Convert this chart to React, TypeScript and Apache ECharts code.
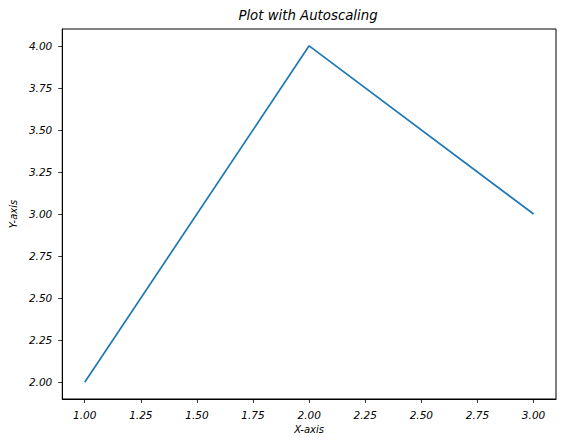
import React, { useEffect, useRef } from "react";
import * as echarts from "echarts";

const xValues = [1, 2, 3];
const yValues = [2, 4, 3];
const xTicks = [1, 1.25, 1.5, 1.75, 2, 2.25, 2.5, 2.75, 3];
const yTicks = [2, 2.25, 2.5, 2.75, 3, 3.25, 3.5, 3.75, 4];

const FONT = "DejaVu Sans";

export default function App() {
  const ref = useRef<HTMLDivElement>(null);
  useEffect(() => {
    if (!ref.current) return;
    const chart = echarts.init(ref.current, null, { renderer: "svg" });
    const axisCommon = {
      type: "value" as const,
      splitLine: { show: false },
      axisLine: { show: true, lineStyle: { color: "#000", width: 1 } },
      axisTick: { show: true, length: 4, lineStyle: { color: "#000", width: 0.8 } },
      axisLabel: {
        color: "#000",
        fontFamily: FONT,
        fontStyle: "italic",
        fontSize: 10.5,
        formatter: (v: number) => v.toFixed(2),
      },
      nameTextStyle: { color: "#000", fontFamily: FONT, fontStyle: "italic", fontSize: 10 },
    };
    chart.setOption({
      animation: false,
      backgroundColor: "#fff",
      title: {
        text: "Plot with Autoscaling",
        left: 308,
        top: 9,
        padding: 0,
        textAlign: "center",
        textStyle: { fontFamily: FONT, fontStyle: "italic", fontWeight: "normal", fontSize: 13.3, color: "#000" },
      },
      grid: { left: 60, top: 29, width: 496, height: 370, show: true, borderColor: "#000", borderWidth: 1, backgroundColor: "transparent" },
      xAxis: {
        ...axisCommon,
        min: 0.9,
        max: 3.1,
        name: "X-axis",
        nameLocation: "middle",
        nameGap: 24,
        axisLabel: { ...axisCommon.axisLabel, margin: 10, customValues: xTicks },
        axisTick: { ...axisCommon.axisTick, customValues: xTicks },
      },
      yAxis: {
        ...axisCommon,
        min: 1.9,
        max: 4.1,
        name: "Y-axis",
        nameLocation: "middle",
        nameGap: 41,
        axisLabel: { ...axisCommon.axisLabel, margin: 10, customValues: yTicks },
        axisTick: { ...axisCommon.axisTick, customValues: yTicks },
      },
      series: [
        {
          type: "line",
          data: xValues.map((x, i) => [x, yValues[i]]),
          showSymbol: false,
          symbol: "none",
          lineStyle: { color: "#1f77b4", width: 1.7 },
        },
      ],
    });
    return () => chart.dispose();
  }, []);
  return <div ref={ref} style={{ position: "absolute", left: 0, top: 0, width: 566, height: 444 }} />;
}
